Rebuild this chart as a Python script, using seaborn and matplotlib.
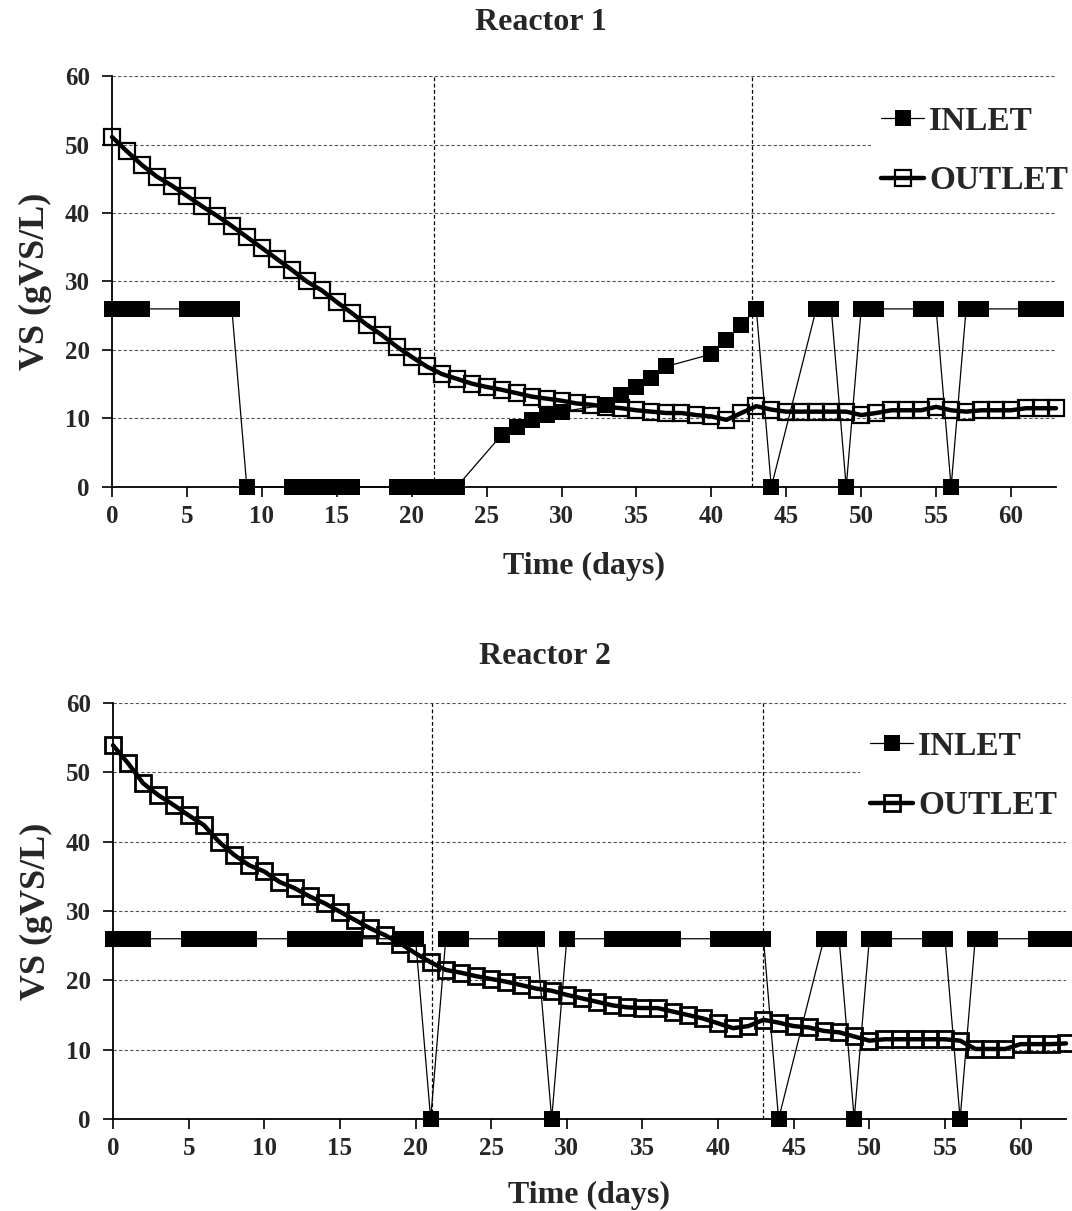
import matplotlib
matplotlib.use("Agg")
import matplotlib.pyplot as plt
import seaborn as sns
import pandas as pd

# ---- Reactor 1 ----
r1_inlet_days = [0, 1, 2, 5, 6, 7, 8, 9, 12, 13, 14, 15, 16, 19, 20, 21, 22, 23,
                 26, 27, 28, 29, 30, 33, 34, 35, 36, 37, 40, 41, 42, 43, 44,
                 47, 48, 49, 50, 51, 54, 55, 56, 57, 58, 61, 62, 63]
r1_inlet_vs = [26, 26, 26, 26, 26, 26, 26, 0, 0, 0, 0, 0, 0, 0, 0, 0, 0, 0,
               7.6, 8.8, 9.8, 10.5, 11.0, 12.0, 13.4, 14.6, 15.9, 17.6, 19.4, 21.5, 23.6, 26, 0,
               26, 26, 0, 26, 26, 26, 26, 0, 26, 26, 26, 26, 26]
r1_outlet_days = list(range(0, 64))
r1_outlet_vs = [51.1, 49.0, 47.0, 45.3, 44.0, 42.5, 41.0, 39.6, 38.1, 36.5,
                34.9, 33.3, 31.7, 30.0, 28.7, 27.0, 25.4, 23.7, 22.2, 20.5,
                19.0, 17.6, 16.5, 15.8, 15.1, 14.6, 14.2, 13.7, 13.2, 12.9,
                12.6, 12.2, 12.0, 11.7, 11.5, 11.2, 11.0, 10.8, 10.8, 10.5,
                10.3, 9.8, 10.8, 11.8, 11.3, 11.0, 11.0, 11.0, 11.0, 11.0,
                10.5, 10.8, 11.2, 11.2, 11.2, 11.7, 11.2, 11.0, 11.2, 11.2,
                11.2, 11.5, 11.5, 11.5]
r1_phase_days = [21.5, 42.7]

# ---- Reactor 2 ----
r2_inlet_days = [0, 1, 2, 5, 6, 7, 8, 9, 12, 13, 14, 15, 16, 19, 20, 21, 22, 23,
                 26, 27, 28, 29, 30, 33, 34, 35, 36, 37, 40, 41, 42, 43, 44,
                 47, 48, 49, 50, 51, 54, 55, 56, 57, 58, 61, 62, 63]
r2_inlet_vs = [26, 26, 26, 26, 26, 26, 26, 26, 26, 26, 26, 26, 26, 26, 26, 0, 26, 26,
               26, 26, 26, 0, 26, 26, 26, 26, 26, 26, 26, 26, 26, 26, 0,
               26, 26, 0, 26, 26, 26, 26, 0, 26, 26, 26, 26, 26]
r2_outlet_days = list(range(0, 64))
r2_outlet_vs = [53.9, 51.3, 48.4, 46.7, 45.3, 43.8, 42.4, 40.0, 38.1, 36.6,
                35.7, 34.2, 33.3, 32.1, 31.1, 29.9, 28.7, 27.5, 26.5, 25.3,
                23.9, 22.6, 21.5, 21.1, 20.6, 20.2, 19.8, 19.3, 18.8, 18.5,
                17.9, 17.4, 16.9, 16.4, 16.1, 16.0, 16.0, 15.5, 15.0, 14.5,
                13.8, 13.1, 13.4, 14.3, 13.9, 13.4, 13.2, 12.7, 12.5, 11.9,
                11.3, 11.5, 11.5, 11.5, 11.5, 11.5, 11.3, 10.1, 10.1, 10.1,
                10.8, 10.8, 10.8, 10.9]
r2_phase_days = [21.1, 43.0]

titles = ["Reactor 1", "Reactor 2"]
x_ticks = list(range(0, 61, 5))
y_ticks = list(range(0, 61, 10))

sns.set_style("white")
plt.rcParams["font.family"] = ["Liberation Serif", "DejaVu Serif"]
plt.rcParams["font.weight"] = "bold"

W, H = 1072, 1211
fig = plt.figure(figsize=(W / 100, H / 100), dpi=100)

# axes boxes in pixels: left, top, right, bottom
boxes = [(112, 76, 1056, 487), (113, 703, 1066, 1119)]
title_pos = [(541, 23), (545, 657)]
legend_pos = [(871, 96), (860, 721)]
xlabel_pad = [17, 15]

datasets = [
    (r1_inlet_days, r1_inlet_vs, r1_outlet_days, r1_outlet_vs, r1_phase_days),
    (r2_inlet_days, r2_inlet_vs, r2_outlet_days, r2_outlet_vs, r2_phase_days),
]

for i, (box, (in_d, in_v, out_d, out_v, phases)) in enumerate(zip(boxes, datasets)):
    l, t, r, b = box
    ax = fig.add_axes([l / W, 1 - b / H, (r - l) / W, (b - t) / H])

    inlet = pd.DataFrame({"day": in_d, "vs": in_v})
    outlet = pd.DataFrame({"day": out_d, "vs": out_v})

    for gy in y_ticks[1:]:
        ax.axhline(gy, color="#555555", lw=0.8, ls=(0, (3, 2)), zorder=0)
    for px in phases:
        ax.axvline(px, color="black", lw=0.9, ls=(0, (3, 2)), zorder=1)

    sns.lineplot(data=inlet, x="day", y="vs", ax=ax, color="black", lw=0.9,
                 marker="s", markersize=12, markeredgewidth=0,
                 markerfacecolor="black", errorbar=None, label="INLET",
                 clip_on=False, zorder=3)
    sns.lineplot(data=outlet, x="day", y="vs", ax=ax, color="black", lw=3.2,
                 marker="s", markersize=11, markeredgewidth=1.6 if i == 0 else 2.0,
                 markerfacecolor="none", markeredgecolor="black", errorbar=None,
                 label="OUTLET", clip_on=False, zorder=4)

    ax.set_xlim(0, 63)
    ax.set_ylim(0, 60)
    ax.set_xticks(x_ticks)
    ax.set_yticks(y_ticks)
    ax.tick_params(axis="x", direction="out", length=7, width=1.2,
                   color="black", labelsize=18, pad=6, bottom=True)
    ax.tick_params(axis="y", direction="out", length=7, width=1.2,
                   color="black", labelsize=18, pad=9, left=True)
    for lab in ax.get_xticklabels() + ax.get_yticklabels():
        lab.set_fontweight("bold")
    sns.despine(ax=ax)
    for s in ("left", "bottom"):
        ax.spines[s].set_color("black")
        ax.spines[s].set_linewidth(1.3)

    ax.set_xlabel("Time (days)", fontsize=23, fontweight="bold",
                  labelpad=xlabel_pad[i])
    ax.set_ylabel("VS (gVS/L)", fontsize=26, fontweight="bold", labelpad=9)

    lx, ly = legend_pos[i]
    leg = ax.legend(loc="upper left", bbox_to_anchor=(lx / W, 1 - ly / H),
                    bbox_transform=fig.transFigure, borderaxespad=0,
                    frameon=True, facecolor="white", edgecolor="none",
                    framealpha=1, fontsize=24, handlelength=1.3,
                    handletextpad=0.15, labelspacing=0.85, borderpad=0.3)
    for txt in leg.get_texts():
        txt.set_fontweight("bold")
    leg.set_zorder(5)

    tx, ty = title_pos[i]
    fig.text(tx / W, 1 - ty / H, titles[i], ha="center", va="center",
             fontsize=23, fontweight="bold")

fig.savefig("out.png", dpi=100, facecolor="white")
